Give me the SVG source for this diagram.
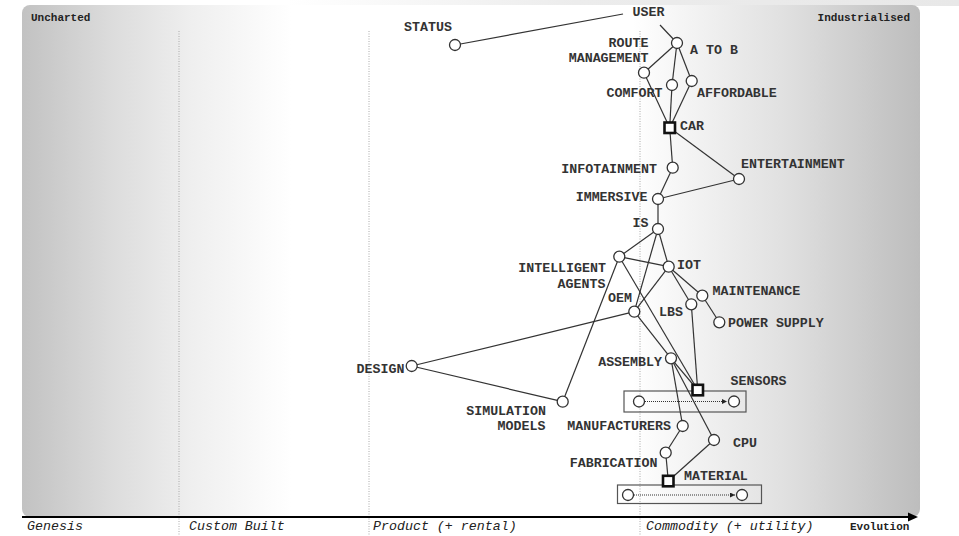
<svg xmlns="http://www.w3.org/2000/svg" width="959" height="536" viewBox="0 0 959 536">
<defs>
<linearGradient id="panel" x1="22" y1="0" x2="920" y2="0" gradientUnits="userSpaceOnUse">
<stop offset="0" stop-color="#c2c2c2"/>
<stop offset="0.1" stop-color="#dcdcdc"/>
<stop offset="0.19" stop-color="#efefef"/>
<stop offset="0.3" stop-color="#ffffff"/>
<stop offset="0.68" stop-color="#ffffff"/>
<stop offset="0.85" stop-color="#e0e0e0"/>
<stop offset="1" stop-color="#bdbdbd"/>
</linearGradient>
<linearGradient id="topband" x1="0" y1="0" x2="959" y2="0" gradientUnits="userSpaceOnUse">
<stop offset="0.3" stop-color="#ffffff"/>
<stop offset="0.6" stop-color="#ececec"/>
<stop offset="1" stop-color="#e8e8e8"/>
</linearGradient>
<marker id="dotArrow" viewBox="0 0 6 6" refX="6" refY="3" markerWidth="5" markerHeight="5" orient="auto" markerUnits="userSpaceOnUse">
<path d="M0,0 L6,3 L0,6 z" fill="#222"/>
</marker>
</defs>
<style>
.lbl{font-family:"Liberation Mono","DejaVu Sans Mono",monospace;font-size:13.3px;font-weight:bold;fill:#333}
.corner{font-family:"Liberation Mono","DejaVu Sans Mono",monospace;font-size:11px;font-weight:bold;fill:#222}
.stage{font-family:"Liberation Mono","DejaVu Sans Mono",monospace;font-size:13.3px;font-style:italic;fill:#222}
.node{fill:#fff;stroke:#333;stroke-width:1.3}
.sq{fill:#fff;stroke:#111;stroke-width:2.6}
.link{stroke:#333;stroke-width:1.2;fill:none}
.grid{stroke:#aaa;stroke-width:1;stroke-dasharray:1,1.5}
.mbox{fill:none;stroke:#555;stroke-width:1.2}
.mline{stroke:#333;stroke-width:1;stroke-dasharray:1,1}
</style>
<rect x="0" y="0" width="959" height="6" fill="url(#topband)"/>
<rect x="22" y="5" width="898" height="512" rx="8" ry="8" fill="url(#panel)"/>
<g id="grid">
<line class="grid" x1="179" y1="31" x2="179" y2="536"/>
<line class="grid" x1="369" y1="31" x2="369" y2="536"/>
<line class="grid" x1="640" y1="31" x2="640" y2="536"/>
</g>
<g id="axis">
<line x1="22" y1="517" x2="911" y2="517" stroke="#000" stroke-width="2"/>
<path d="M918,517 L908,512.5 L908,521.5 z" fill="#000"/>
<text class="corner" x="31" y="21">Uncharted</text>
<text class="corner" x="910" y="21" text-anchor="end">Industrialised</text>
<text class="stage" x="27" y="530">Genesis</text>
<text class="stage" x="189" y="530">Custom Built</text>
<text class="stage" x="373" y="530">Product (+ rental)</text>
<text class="stage" x="646" y="530">Commodity (+ utility)</text>
<text class="corner" x="850" y="530">Evolution</text>
</g>
<g id="movement">
<rect class="mbox" x="624" y="391" width="122" height="21"/>
<line class="mline" x1="645" y1="401.5" x2="727" y2="401.5" marker-end="url(#dotArrow)"/>
<circle class="node" cx="639" cy="401.5" r="5.5"/>
<circle class="node" cx="734" cy="401.5" r="5.5"/>
<rect class="mbox" x="617.5" y="485" width="144" height="18.5"/>
<line class="mline" x1="634" y1="495" x2="735" y2="495" marker-end="url(#dotArrow)"/>
<circle class="node" cx="628" cy="495" r="5.5"/>
<circle class="node" cx="742" cy="495" r="5.5"/>
</g>
<g id="connectors">
<line class="link" x1="455" y1="45" x2="623" y2="14"/>
<line class="link" x1="660" y1="25" x2="677" y2="43"/>
<line class="link" x1="677" y1="43" x2="644" y2="72.7"/>
<line class="link" x1="677" y1="43" x2="672" y2="85"/>
<line class="link" x1="677" y1="43" x2="691.7" y2="81"/>
<line class="link" x1="644" y1="72.7" x2="669.7" y2="127.8"/>
<line class="link" x1="672" y1="85" x2="669.7" y2="127.8"/>
<line class="link" x1="691.7" y1="81" x2="669.7" y2="127.8"/>
<line class="link" x1="669.7" y1="127.8" x2="672.7" y2="167.7"/>
<line class="link" x1="669.7" y1="127.8" x2="739" y2="179"/>
<line class="link" x1="672.7" y1="167.7" x2="658" y2="199"/>
<line class="link" x1="739" y1="179" x2="658" y2="199"/>
<line class="link" x1="658" y1="199" x2="658" y2="229"/>
<line class="link" x1="658" y1="229" x2="619.3" y2="256.7"/>
<line class="link" x1="658" y1="229" x2="668.7" y2="266.7"/>
<line class="link" x1="658" y1="229" x2="634.3" y2="311.7"/>
<line class="link" x1="619.3" y1="256.7" x2="668.7" y2="266.7"/>
<line class="link" x1="619.3" y1="256.7" x2="562.7" y2="401.7"/>
<line class="link" x1="619.3" y1="256.7" x2="697.7" y2="390"/>
<line class="link" x1="668.7" y1="266.7" x2="634.3" y2="311.7"/>
<line class="link" x1="668.7" y1="266.7" x2="691.3" y2="304.3"/>
<line class="link" x1="668.7" y1="266.7" x2="702.3" y2="295.7"/>
<line class="link" x1="702.3" y1="295.7" x2="719.3" y2="322.3"/>
<line class="link" x1="691.3" y1="304.3" x2="697.7" y2="390"/>
<line class="link" x1="634.3" y1="311.7" x2="411.7" y2="366"/>
<line class="link" x1="634.3" y1="311.7" x2="671" y2="358.3"/>
<line class="link" x1="411.7" y1="366" x2="562.7" y2="401.7"/>
<line class="link" x1="671" y1="358.3" x2="697.7" y2="390"/>
<line class="link" x1="671" y1="358.3" x2="682.7" y2="426"/>
<line class="link" x1="671" y1="358.3" x2="714" y2="440"/>
<line class="link" x1="682.7" y1="426" x2="665.7" y2="452.7"/>
<line class="link" x1="665.7" y1="452.7" x2="668.3" y2="481"/>
<line class="link" x1="714" y1="440" x2="668.3" y2="481"/>
</g>
<g id="user"><text class="lbl" x="632.5" y="16">USER</text></g>
<g id="status"><circle class="node" cx="455" cy="45" r="5.5"/><text class="lbl" x="404" y="31">STATUS</text></g>
<g id="atob"><circle class="node" cx="677" cy="43" r="5.5"/><text class="lbl" x="690" y="54">A TO B</text></g>
<g id="route"><circle class="node" cx="644" cy="72.7" r="5.5"/><text class="lbl" x="648.5" y="46.5" text-anchor="end">ROUTE</text><text class="lbl" x="648.5" y="61.5" text-anchor="end">MANAGEMENT</text></g>
<g id="comfort"><circle class="node" cx="672" cy="85" r="5.5"/><text class="lbl" x="606.5" y="96.5">COMFORT</text></g>
<g id="affordable"><circle class="node" cx="691.7" cy="81" r="5.5"/><text class="lbl" x="697" y="96.5">AFFORDABLE</text></g>
<g id="car"><rect class="sq" x="664.5" y="122.5" width="10.5" height="10.5"/><text class="lbl" x="680" y="130">CAR</text></g>
<g id="infotainment"><circle class="node" cx="672.7" cy="167.7" r="5.5"/><text class="lbl" x="657" y="173" text-anchor="end">INFOTAINMENT</text></g>
<g id="entertainment"><circle class="node" cx="739" cy="179" r="5.5"/><text class="lbl" x="741" y="168">ENTERTAINMENT</text></g>
<g id="immersive"><circle class="node" cx="658" cy="199" r="5.5"/><text class="lbl" x="647.5" y="201" text-anchor="end">IMMERSIVE</text></g>
<g id="is"><circle class="node" cx="658" cy="229" r="5.5"/><text class="lbl" x="648.5" y="227" text-anchor="end">IS</text></g>
<g id="intelligent-agents"><circle class="node" cx="619.3" cy="256.7" r="5.5"/><text class="lbl" x="606" y="272" text-anchor="end">INTELLIGENT</text><text class="lbl" x="605.5" y="288" text-anchor="end">AGENTS</text></g>
<g id="iot"><circle class="node" cx="668.7" cy="266.7" r="5.5"/><text class="lbl" x="677" y="269">IOT</text></g>
<g id="oem"><circle class="node" cx="634.3" cy="311.7" r="5.5"/><text class="lbl" x="608" y="302">OEM</text></g>
<g id="maintenance"><circle class="node" cx="702.3" cy="295.7" r="5.5"/><text class="lbl" x="712.5" y="295">MAINTENANCE</text></g>
<g id="lbs"><circle class="node" cx="691.3" cy="304.3" r="5.5"/><text class="lbl" x="683" y="316" text-anchor="end">LBS</text></g>
<g id="power-supply"><circle class="node" cx="719.3" cy="322.3" r="5.5"/><text class="lbl" x="728" y="327">POWER SUPPLY</text></g>
<g id="design"><circle class="node" cx="411.7" cy="366" r="5.5"/><text class="lbl" x="404.5" y="373" text-anchor="end">DESIGN</text></g>
<g id="simulation-models"><circle class="node" cx="562.7" cy="401.7" r="5.5"/><text class="lbl" x="546" y="415" text-anchor="end">SIMULATION</text><text class="lbl" x="545.5" y="430" text-anchor="end">MODELS</text></g>
<g id="assembly"><circle class="node" cx="671" cy="358.3" r="5.5"/><text class="lbl" x="662" y="366" text-anchor="end">ASSEMBLY</text></g>
<g id="sensors"><rect class="sq" x="692.5" y="384.8" width="10.5" height="10.5"/><text class="lbl" x="730.5" y="385">SENSORS</text></g>
<g id="manufacturers"><circle class="node" cx="682.7" cy="426" r="5.5"/><text class="lbl" x="671" y="430" text-anchor="end">MANUFACTURERS</text></g>
<g id="cpu"><circle class="node" cx="714" cy="440" r="5.5"/><text class="lbl" x="733" y="446.5">CPU</text></g>
<g id="fabrication"><circle class="node" cx="665.7" cy="452.7" r="5.5"/><text class="lbl" x="657.5" y="466.5" text-anchor="end">FABRICATION</text></g>
<g id="material"><rect class="sq" x="663" y="475.8" width="10.5" height="10.5"/><text class="lbl" x="684" y="480">MATERIAL</text></g>
</svg>
